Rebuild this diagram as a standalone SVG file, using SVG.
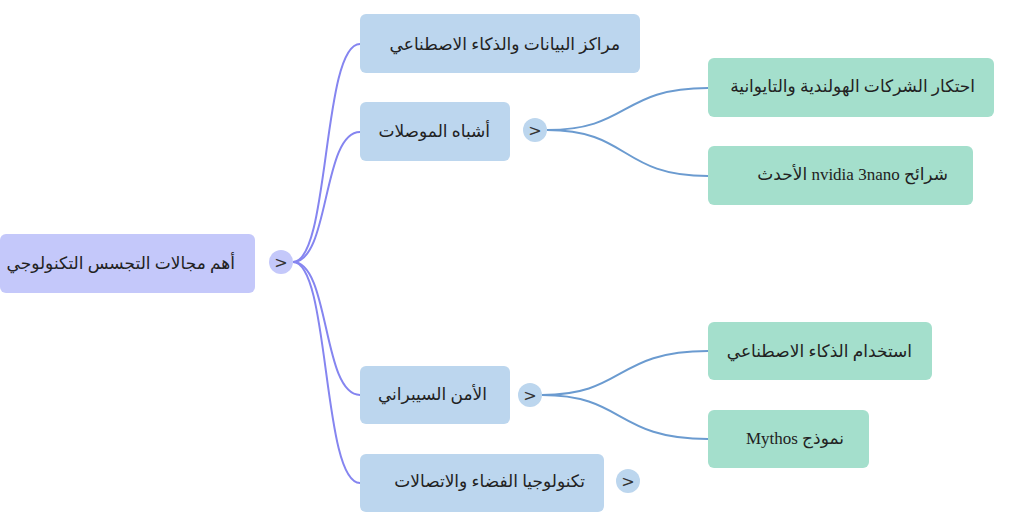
<svg xmlns="http://www.w3.org/2000/svg" width="1024" height="527" viewBox="0 0 1024 527">
<style>
text{font-family:"Liberation Serif","DejaVu Sans",serif;font-size:17px;fill:#222;direction:rtl;text-anchor:start;dominant-baseline:central}
.root{fill:#c4c8fa}.l1{fill:#bcd6ee}.l2{fill:#a4dfcc}
.tg{fill:#bcd6ee}.tgr{fill:#c4c8fa}
.tgt{font-family:"DejaVu Sans",sans-serif;font-size:16px;direction:ltr;text-anchor:middle;fill:#333}
.c1{fill:none;stroke:#8585f0;stroke-width:2}.c2{fill:none;stroke:#6b9bd0;stroke-width:2}
</style>
<g id="connectors">
<path class="c1" d="M293 262 C330 262 322 44 360 44"/>
<path class="c1" d="M293 262 C330 262 322 132 360 132"/>
<path class="c1" d="M293 262 C330 262 322 395 360 395"/>
<path class="c1" d="M293 262 C330 262 322 483 360 483"/>
<path class="c2" d="M547 130 C630 130 620 88 708 88"/>
<path class="c2" d="M547 130 C630 130 620 176 708 176"/>
<path class="c2" d="M542 395 C625 395 615 351 708 351"/>
<path class="c2" d="M542 395 C625 395 615 439 708 439"/>
</g>
<g id="root"><rect class="root" x="0" y="234" width="255" height="59" rx="6"/><text x="235" y="263">أهم مجالات التجسس التكنولوجي</text><circle class="tgr" cx="281" cy="262" r="12"/><text class="tgt" x="281" y="262">&gt;</text></g>
<g id="n1"><rect class="l1" x="360" y="14" width="280" height="59" rx="6"/><text x="620" y="44">مراكز البيانات والذكاء الاصطناعي</text></g>
<g id="n2"><rect class="l1" x="360" y="102" width="150" height="59" rx="6"/><text x="490" y="131">أشباه الموصلات</text><circle class="tg" cx="535" cy="130" r="12"/><text class="tgt" x="535" y="130">&gt;</text></g>
<g id="n3"><rect class="l1" x="360" y="366" width="150" height="58" rx="6"/><text x="487" y="394">الأمن السيبراني</text><circle class="tg" cx="530" cy="395" r="12"/><text class="tgt" x="530" y="395">&gt;</text></g>
<g id="n4"><rect class="l1" x="360" y="454" width="244" height="58" rx="6"/><text x="585" y="481">تكنولوجيا الفضاء والاتصالات</text><circle class="tg" cx="628" cy="481" r="12"/><text class="tgt" x="628" y="481">&gt;</text></g>
<g id="n21"><rect class="l2" x="708" y="58" width="286" height="59" rx="6"/><text x="975" y="86">احتكار الشركات الهولندية والتايوانية</text></g>
<g id="n22"><rect class="l2" x="708" y="146" width="265" height="59" rx="6"/><text x="948" y="174">شرائح nvidia 3nano الأحدث</text></g>
<g id="n31"><rect class="l2" x="708" y="322" width="224" height="58" rx="6"/><text x="912" y="351">استخدام الذكاء الاصطناعي</text></g>
<g id="n32"><rect class="l2" x="708" y="410" width="161" height="58" rx="6"/><text x="844" y="438">نموذج Mythos</text></g>
</svg>
